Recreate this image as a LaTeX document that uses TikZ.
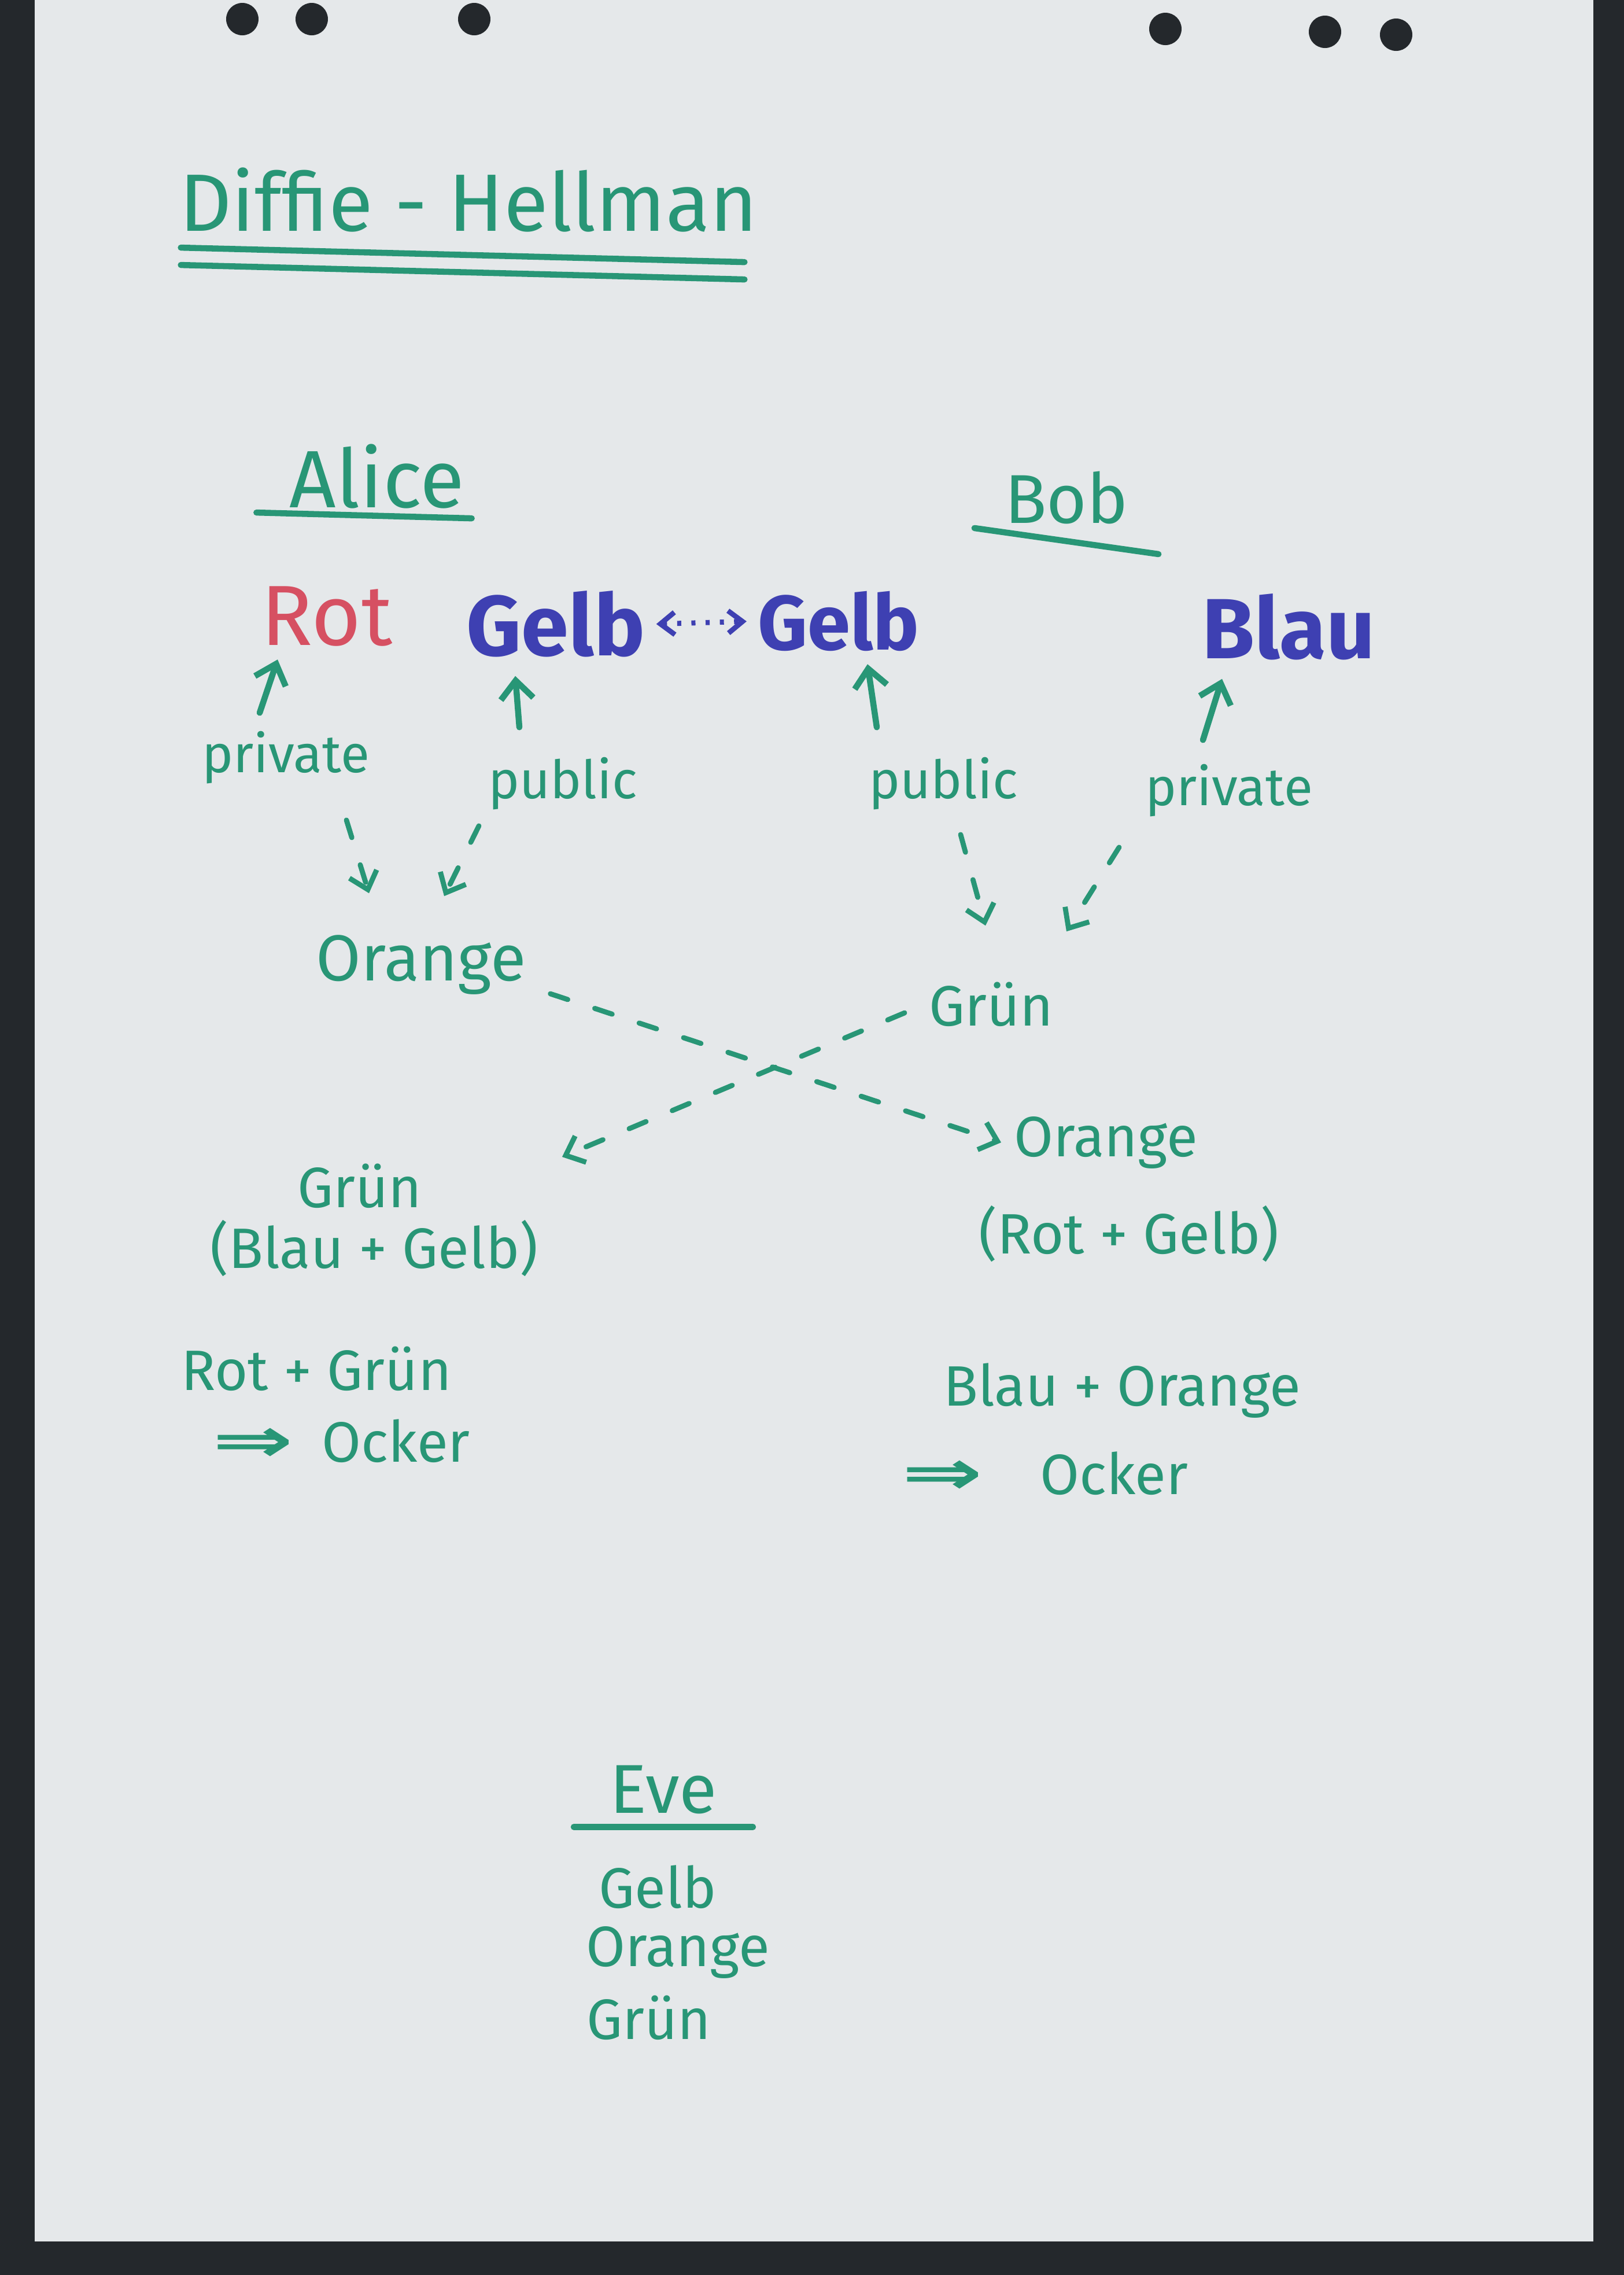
\documentclass[tikz,border=0pt]{standalone}
\usepackage{fontspec}
\setmainfont{Fira Sans}
\newfontfamily\symfont{DejaVu Sans}
\usetikzlibrary{arrows.meta}
\definecolor{ink}{RGB}{40,150,118}
\definecolor{inkblue}{RGB}{62,64,178}
\definecolor{inkred}{RGB}{214,80,98}
\definecolor{paper}{RGB}{229,232,234}
\definecolor{board}{RGB}{36,40,44}
\newcommand{\implarr}{\scalebox{1.7}[1.1]{\symfont\bfseries ⇒}}
\tikzset{
  pen/.style={draw=ink, line width=3pt, line cap=round},
  hand/.style={text=ink, font=\fontsize{28}{34}\selectfont},
  tag/.style={text=ink, font=\fontsize{26}{31}\selectfont},
  head/.style={text=ink, font=\fontsize{40}{48}\selectfont},
  colour/.style={font=\fontsize{42}{50}\selectfont\bfseries},
  uparr/.style={pen, -{Straight Barb[length=9pt,width=16pt]}},
  mixarr/.style={pen, line width=2.5pt, dash pattern=on 9pt off 14pt, -{Straight Barb[length=8pt,width=14pt]}},
}
\begin{document}
\begin{tikzpicture}
		% sheet
		\useasboundingbox (0,0) rectangle (28.08,-39.33);
		\fill[board] (0,0) rectangle (28.08,-39.33);
		\fill[paper] (0.6,0) rectangle (27.55,-38.75);
		\foreach \hx/\hy in {4.19/0.33,5.39/0.33,8.20/0.33,20.15/0.50,22.91/0.55,24.14/0.60}
			\fill[board] (\hx,-\hy) circle (0.28);

		% title
		\node[head] (title) at (8.10,-3.45) {Diffie - Hellman};
		\draw[pen] ([xshift=0.15cm,yshift=-0.15cm]title.south west) -- ([xshift=-0.35cm,yshift=-0.4cm]title.south east);
		\draw[pen] ([xshift=0.15cm,yshift=-0.45cm]title.south west) -- ([xshift=-0.35cm,yshift=-0.7cm]title.south east);

		% parties
		\node[head] (alice) at (6.52,-8.23) {Alice};
		\draw[pen] ([xshift=-0.45cm,yshift=0.05cm]alice.south west) -- ([xshift=0.0cm,yshift=-0.05cm]alice.south east);
		\node[head, font=\fontsize{34}{40}\selectfont] (bob) at (18.44,-8.60) {Bob};
		\draw[pen] ([xshift=-0.4cm,yshift=0.05cm]bob.south west) -- ([xshift=0.4cm,yshift=-0.4cm]bob.south east);

		% colours
		\node[colour, font=\fontsize{42}{50}\selectfont, text=inkred] (rot) at (5.65,-10.66) {Rot};
		\node[colour, text=inkblue] (gelbA) at (9.61,-10.79) {Gelb};
		\node[colour, text=inkblue, font=\fontsize{38}{46}\selectfont\bfseries] (gelbB) at (14.50,-10.74) {Gelb};
		\node[colour, text=inkblue] (blau) at (22.28,-10.84) {Blau};
		\draw (gelbA.east) edge [{Straight Barb[length=7pt,width=11pt]}-{Straight Barb[length=7pt,width=11pt]}, draw=inkblue, line width=2.5pt, dash pattern=on 2pt off 5pt, shorten <=2pt, shorten >=2pt] (gelbB.west);

		\node[tag] (privA) at (4.94,-13.10) {private};
		\node[tag] (pubA) at (9.73,-13.55) {public};
		\node[tag] (pubB) at (16.31,-13.55) {public};
		\node[tag] (privB) at (21.25,-13.67) {private};
		\draw[uparr] ([xshift=-0.45cm,yshift=0.2cm]privA.north) -- ([xshift=-0.85cm,yshift=-0.1cm]rot.south);
		\draw[uparr] ([xshift=-0.75cm,yshift=0.4cm]pubA.north) -- ([xshift=-0.7cm,yshift=-0.2cm]gelbA.south);
		\draw[uparr] ([xshift=-1.15cm,yshift=0.4cm]pubB.north) -- ([xshift=0.5cm,yshift=-0.1cm]gelbB.south);
		\draw[uparr] ([xshift=-0.45cm,yshift=0.3cm]privB.north) -- ([xshift=-1.15cm,yshift=-0.2cm]blau.south);

		% mixing
		\node[hand, font=\fontsize{32}{38}\selectfont] (orangeA) at (7.28,-16.68) {Orange};
		\node[hand] (gruenB) at (17.14,-17.36) {Grün};
		\draw[mixarr] ([xshift=1.05cm,yshift=-0.5cm]privA.south) -- ([xshift=-0.9cm,yshift=0.6cm]orangeA.north);
		\draw[mixarr] ([xshift=-1.45cm,yshift=-0.15cm]pubA.south) -- ([xshift=0.4cm,yshift=0.55cm]orangeA.north);
		\draw[mixarr] ([xshift=0.3cm,yshift=-0.3cm]pubB.south) -- ([xshift=-0.1cm,yshift=0.85cm]gruenB.north);
		\draw[mixarr] ([xshift=-1.9cm,yshift=-0.4cm]privB.south) -- ([xshift=1.3cm,yshift=0.75cm]gruenB.north);

		% exchange
		\node[hand] (orangeB) at (19.12,-19.75) {Orange};
		\node[hand] (rotgelb) at (19.52,-21.33) {(Rot + Gelb)};
		\node[hand] (gruenA) at (6.22,-20.50) {Grün};
		\node[hand] (blaugelb) at (6.47,-21.58) {(Blau + Gelb)};
		\draw[mixarr] ([xshift=0.3cm,yshift=-0.5cm]orangeA.east) -- ([xshift=-0.1cm]orangeB.west);
		\draw[mixarr] ([xshift=-0.3cm,yshift=-0.15cm]gruenB.west) -- ([xshift=2.3cm,yshift=0.5cm]gruenA.east);

		% results
		\node[hand] (rotgruen) at (5.47,-23.66) {Rot + Grün};
		\node[hand] (ockerA) at (5.90,-24.91) {\implarr\enspace Ocker};
		\node[hand] (blauorange) at (19.40,-24.04) {Blau + Orange};
		\node[hand] (ockerB) at (18.07,-25.47) {\implarr\quad Ocker};

		% eavesdropper
		\node[head, font=\fontsize{34}{40}\selectfont] (eve) at (11.47,-30.94) {Eve};
		\draw[pen] ([xshift=-0.5cm,yshift=-0.1cm]eve.south west) -- ([xshift=0.5cm,yshift=-0.1cm]eve.south east);
		\node[hand] (eveGelb) at (11.37,-32.62) {Gelb};
		\node[hand] (eveOrange) at (11.72,-33.75) {Orange};
		\node[hand] (eveGruen) at (11.22,-34.88) {Grün};
\end{tikzpicture}
\end{document}
